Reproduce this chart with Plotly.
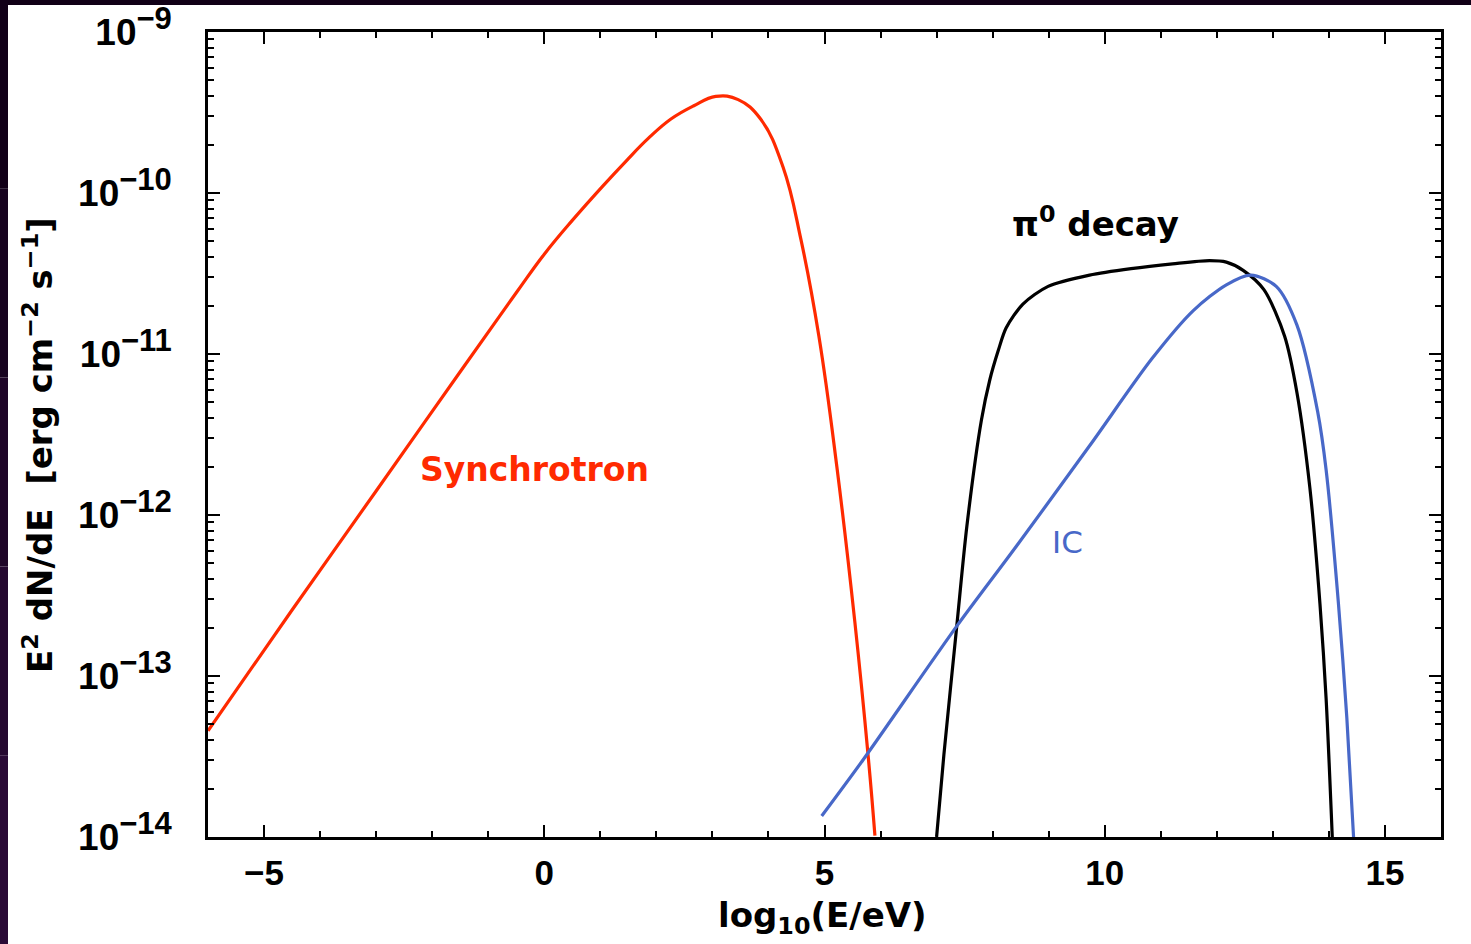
import plotly.graph_objects as go

# ---- data ----
sync_logE = [-6.0, -4.5, -3.0, -1.5, -0.5, 0.0, 0.5, 1.06, 1.46, 1.86, 2.26, 2.66, 3.06, 3.46, 3.86,
             4.26, 4.58, 4.9, 5.22, 5.54, 5.78, 5.9]
sync_flux = [4.57e-14, 2.57e-13, 1.41e-12, 7.76e-12, 2.40e-11, 4.17e-11, 6.76e-11, 1.12e-10, 1.58e-10,
             2.19e-10, 2.88e-10, 3.47e-10, 3.98e-10, 3.80e-10, 2.88e-10, 1.45e-10, 5.13e-11, 1.29e-11,
             2.00e-12, 2.19e-13, 3.16e-14, 1.02e-14]

pi0_logE = [7.0, 7.13, 7.36, 7.54, 7.8, 7.95, 8.1, 8.24, 8.54, 8.99, 9.73, 10.47, 11.21, 11.87, 12.17,
            12.47, 12.84, 13.21, 13.43, 13.66, 13.84, 13.95, 14.06]
pi0_flux = [1.0e-14, 3.24e-14, 2.04e-13, 8.51e-13, 3.89e-12, 6.92e-12, 1.05e-11, 1.45e-11, 2.04e-11,
            2.63e-11, 3.09e-11, 3.39e-11, 3.63e-11, 3.80e-11, 3.72e-11, 3.31e-11, 2.51e-11, 1.29e-11,
            5.75e-12, 1.48e-12, 2.82e-13, 7.24e-14, 1.0e-14]

ic_logE = [4.95, 5.69, 7.36, 8.39, 9.73, 10.84, 11.58, 12.17, 12.61, 13.06, 13.43, 13.8, 13.95, 14.17,
           14.32, 14.44]
ic_flux = [1.35e-14, 3.02e-14, 2.04e-13, 6.17e-13, 2.69e-12, 9.33e-12, 1.86e-11, 2.69e-11, 3.09e-11,
           2.63e-11, 1.51e-11, 4.37e-12, 1.91e-12, 2.82e-13, 5.50e-14, 1.0e-14]

x_tickvals = [-5, 0, 5, 10, 15]
x_ticktext = ["−5", "0", "5", "10", "15"]
y_exponents = [-14, -13, -12, -11, -10, -9]

RED = "#ff2a00"
BLUE = "#4868c8"
BLACK = "#000000"
FONT = "DejaVu Sans"
TICKFONT = "Liberation Sans"

fig = go.Figure()
for xs, ys, col, sm in [(sync_logE, sync_flux, RED, 1.2), (pi0_logE, pi0_flux, BLACK, 0.8),
                        (ic_logE, ic_flux, BLUE, 0.8)]:
    fig.add_trace(go.Scatter(x=xs, y=ys, mode="lines",
                             line=dict(color=col, width=3.2, shape="spline", smoothing=sm),
                             showlegend=False, hoverinfo="skip"))

y_tickvals = [10.0 ** e for e in y_exponents]
y_ticktext = ["10<sup><span style='font-size:31px'>−%d</span></sup>" % (-e) for e in y_exponents]
y_minor = [k * 10.0 ** e for e in y_exponents[:-1] for k in range(2, 10)]

fig.update_xaxes(range=[-6, 16], tickmode="array", tickvals=x_tickvals, ticktext=x_ticktext,
                 ticks="inside", ticklen=12, tickwidth=2, tickcolor="black",
                 minor=dict(ticks="inside", dtick=1, tick0=0, ticklen=6, tickwidth=2, tickcolor="black"),
                 showline=True, linewidth=2.5, linecolor="black", mirror="allticks",
                 showgrid=False, zeroline=False, ticklabeloverflow="allow", automargin=False,
                 tickfont=dict(family=TICKFONT, size=35, color="black", weight="bold"),
                 ticklabelstandoff=3)
fig.update_yaxes(type="log", range=[-14, -9], tickmode="array", tickvals=y_tickvals, ticktext=y_ticktext,
                 ticks="inside", ticklen=12, tickwidth=2, tickcolor="black",
                 minor=dict(ticks="inside", tickvals=y_minor, ticklen=6, tickwidth=2, tickcolor="black"),
                 showline=True, linewidth=2.5, linecolor="black", mirror="allticks",
                 showgrid=False, zeroline=False, ticklabeloverflow="allow", automargin=False,
                 tickfont=dict(family=TICKFONT, size=37, color="black", weight="bold"),
                 ticklabelstandoff=26)

annotations = [
    dict(x=-0.18, y=-11.72, xref="x", yref="y", text="Synchrotron", showarrow=False,
         font=dict(family=FONT, size=33, color=RED, weight="bold")),
    dict(x=9.83, y=-10.18, xref="x", yref="y", text="π<sup>0</sup> decay", showarrow=False,
         font=dict(family=FONT, size=34, color=BLACK, weight="bold")),
    dict(x=9.34, y=-12.17, xref="x", yref="y", text="IC", showarrow=False,
         font=dict(family=FONT, size=31, color=BLUE)),
    dict(x=0.498, y=-0.0994, xref="paper", yref="paper", text="log<sub>10</sub>(E/eV)", showarrow=False,
         xanchor="center", yanchor="middle",
         font=dict(family=FONT, size=34, color=BLACK, weight="bold")),
    dict(x=-0.1379, y=0.487, xref="paper", yref="paper", textangle=-90,
         text="E<sup>2</sup> dN/dE  [erg cm<sup>−2</sup> s<sup>−1</sup>]", showarrow=False,
         xanchor="center", yanchor="middle",
         font=dict(family=FONT, size=34, color=BLACK, weight="bold")),
]

# dark frame strips of the original screenshot (top and left edges)
W, H, L, R, T, B = 1471, 944, 208, 30, 32, 107
pw, ph = W - L - R, H - T - B
def px_to_paper_x(px):
    return (px - L) / pw
def py_to_paper_y(py):
    return (H - B - py) / ph

shapes = [dict(type="rect", xref="paper", yref="paper", x0=px_to_paper_x(0), x1=px_to_paper_x(W),
               y0=py_to_paper_y(5), y1=py_to_paper_y(0), fillcolor="#110016", line=dict(width=0), layer="above")]
strip_cols = ["#120018", "#180420", "#1f0628", "#250830", "#2a0a36"]
n = len(strip_cols)
for i, c in enumerate(strip_cols):
    shapes.append(dict(type="rect", xref="paper", yref="paper", x0=px_to_paper_x(0), x1=px_to_paper_x(8),
                       y0=py_to_paper_y(H * (i + 1) / n), y1=py_to_paper_y(H * i / n),
                       fillcolor=c, line=dict(width=0), layer="above"))

fig.update_layout(width=W, height=H, margin=dict(l=L, r=R, t=T, b=B, pad=0, autoexpand=False),
                  paper_bgcolor="white", plot_bgcolor="white",
                  annotations=annotations, shapes=shapes, showlegend=False)

fig.write_html("out.html", config={"displayModeBar": False},
               post_script="document.body.style.margin='0';")
